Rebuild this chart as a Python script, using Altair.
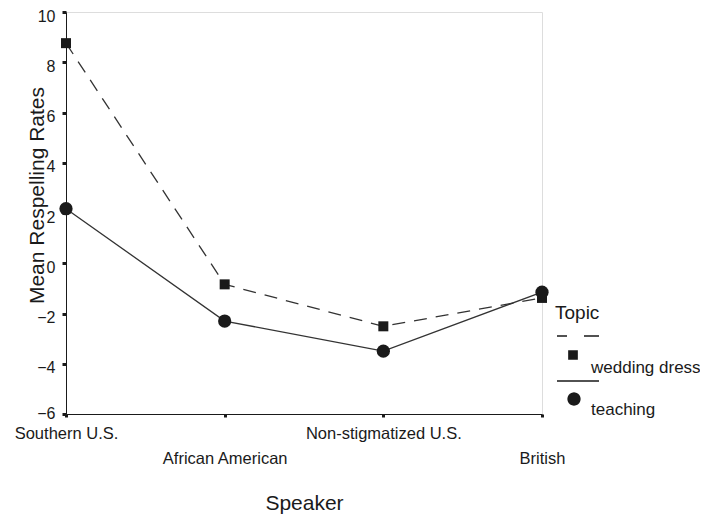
import math
import altair as alt
import pandas as pd

speakers = ["Southern U.S.", "African American", "Non-stigmatized U.S.", "British"]
wedding_dress = [8.76, -0.84, -2.51, -1.38]
teaching = [2.17, -2.3, -3.5, -1.15]
topics = ["wedding dress", "teaching"]

rows = []
for s, v in zip(speakers, wedding_dress):
    rows.append({"Speaker": s, "Topic": "wedding dress", "Rate": v})
for s, v in zip(speakers, teaching):
    rows.append({"Speaker": s, "Topic": "teaching", "Rate": v})
df = pd.DataFrame(rows)

FONT = "Liberation Sans"
INK = "#1a1a1a"


def solid_square(cx, cy, h):
    # outline plus dense hatch so that a stroked glyph reads as filled
    p = f"M{cx-h:.3f},{cy-h:.3f}L{cx+h:.3f},{cy-h:.3f}L{cx+h:.3f},{cy+h:.3f}L{cx-h:.3f},{cy+h:.3f}Z"
    n = int(round(2 * h / 0.1))
    for k in range(n + 1):
        yy = cy - h + k * 0.1
        p += f"M{cx-h:.3f},{yy:.3f}L{cx+h:.3f},{yy:.3f}"
    return p


def solid_disc(cx, cy, r, n=20):
    pts = [(cx + r * math.cos(2 * math.pi * k / n), cy + r * math.sin(2 * math.pi * k / n)) for k in range(n)]
    p = "M" + "L".join(f"{a:.3f},{b:.3f}" for a, b in pts) + "Z"
    m = int(round(2 * r / 0.1))
    for k in range(m + 1):
        dy = -r + k * 0.1
        hw = math.sqrt(max(r * r - dy * dy, 0.0))
        p += f"M{cx-hw:.3f},{cy+dy:.3f}L{cx+hw:.3f},{cy+dy:.3f}"
    return p


# legend glyphs: line sample above a marker (SPSS style)
legend_paths = [
    "M-0.9,-3.2L0.1,-3.2M1.8,-3.2L3.3,-3.2" + solid_square(0.7, -1.3, 0.42),
    "M-0.9,-2.9L3.3,-2.9" + solid_disc(0.8, -1.1, 0.6),
]

x = alt.X("Speaker:N", sort=speakers,
          scale=alt.Scale(type="point", padding=0, domain=speakers),
          axis=alt.Axis(title="Speaker", labelAngle=0, labelBaseline="top",
                        labelExpr="indexof(['African American','British'], datum.label) >= 0 ? ['', datum.label] : datum.label",
                        labelLineHeight=25, labelFontSize=16.5, labelPadding=8,
                        titleFontSize=21, titleFontWeight="normal", titlePadding=26,
                        tickSize=3, tickWidth=3, domainColor=INK, tickColor=INK,
                        labelColor=INK, titleColor=INK, grid=False, labelFont=FONT, titleFont=FONT))
y = alt.Y("Rate:Q",
          scale=alt.Scale(domain=[-6, 10], nice=False, zero=False),
          axis=alt.Axis(title="Mean Respelling Rates", values=[-6, -4, -2, 0, 2, 4, 6, 8, 10],
                        labelFontSize=16, titleFontSize=21, titleFontWeight="normal",
                        tickSize=4, tickWidth=3, domainColor=INK, tickColor=INK,
                        labelColor=INK, titleColor=INK, grid=False, labelPadding=7,
                        labelOffset={"condition": {"test": "datum.value == -6", "value": -1}, "value": 4},
                        titleX=-19, titleY=183, labelFont=FONT, titleFont=FONT))

dashed = alt.Chart(df).transform_filter(alt.datum.Topic == "wedding dress").mark_line(
    color="#333", strokeWidth=1.3, strokeDash=[13, 9]).encode(x=x, y=y)
solid = alt.Chart(df).transform_filter(alt.datum.Topic == "teaching").mark_line(
    color="#333", strokeWidth=1.3).encode(x=x, y=y)
squares = alt.Chart(df).transform_filter(alt.datum.Topic == "wedding dress").mark_point(
    filled=True, color=INK, opacity=1, shape="square", size=100).encode(x=x, y=y)
circles = alt.Chart(df).transform_filter(alt.datum.Topic == "teaching").mark_point(
    filled=True, color=INK, opacity=1, shape="circle", size=175).encode(x=x, y=y)

legend = alt.Legend(title="Topic", orient="none", legendX=489, legendY=292,
                    titleFontSize=19, titleFontWeight="normal", labelFontSize=17,
                    symbolSize=400, symbolStrokeWidth=1.3,
                    symbolStrokeColor=INK, symbolOpacity=1, rowPadding=2, labelOffset=14,
                    labelFont=FONT, titleFont=FONT, labelColor=INK, titleColor=INK,
                    titlePadding=34)
legend_layer = alt.Chart(df).mark_point(
    filled=False, color=INK, strokeWidth=1.3, opacity=0, size=400).encode(
    x=x, y=y,
    shape=alt.Shape("Topic:N", sort=topics,
                    scale=alt.Scale(domain=topics, range=legend_paths),
                    legend=legend),
)

chart = alt.layer(dashed, solid, squares, circles, legend_layer).properties(
    width=476, height=402,
    autosize=alt.AutoSizeParams(type="none"),
    padding={"left": 58, "top": 4, "right": 158, "bottom": 100},
).configure_view(stroke=INK, strokeWidth=1.2).configure(font=FONT)

chart.save("out.html", embed_options={"renderer": "svg", "actions": False})
